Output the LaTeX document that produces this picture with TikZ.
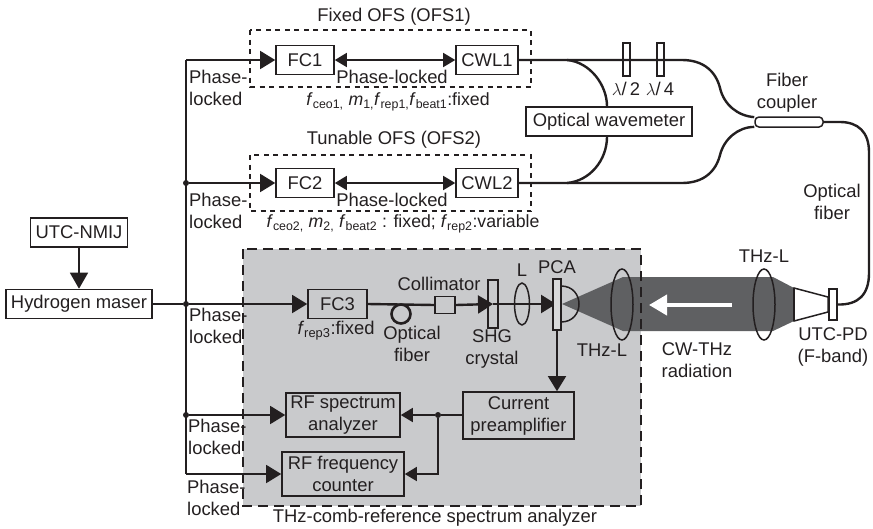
\documentclass[tikz,border=0pt]{standalone}
\usepackage{fontspec}
\setmainfont{Liberation Sans}
\usetikzlibrary{arrows.meta,shapes.geometric}
\definecolor{ink}{HTML}{231F20}
\definecolor{panel}{HTML}{C9CACC}
\definecolor{beam}{HTML}{5F6062}
\newcommand{\fsub}[1]{\textit{f}\textsubscript{#1}}
\tikzset{
  every node/.style={text=ink},
  lbl/.style={inner sep=0pt,align=center,font=\fontsize{18.4}{22}\selectfont},
  paramlbl/.style={inner sep=0pt,font=\fontsize{17.7}{22}\selectfont},
  lockedlbl/.style={lbl,align=left,anchor=west},
  box/.style={lbl,draw=ink,line width=1.6pt,minimum height=#1},
  box/.default=29pt,
  thin wire/.style={draw=ink,line width=1.5pt},
  fiber/.style={draw=ink,line width=2.4pt},
  big/.style={>={Triangle[length=15pt,width=18pt]}},
  mid/.style={>={Triangle[length=12pt,width=14pt]}},
  dotnode/.style={circle,fill=ink,inner sep=0pt,minimum size=6pt},
  plate/.style={draw=ink,line width=1.5pt,inner sep=0pt},
  lens/.style={ellipse,draw=ink,line width=1.5pt,inner sep=0pt}
}
\begin{document}
\begin{tikzpicture}[x=1pt,y=-1pt]
\useasboundingbox (0,0) rectangle (873,528);

% shaded analyzer part and the beam
\fill [panel] (243,249) rectangle (641,506);
\fill [beam] (562,304) -- (623,277) -- (773,277) -- (794,288) -- (794,321) -- (773,331) -- (623,331) -- cycle;
\draw [ink,line width=1.7pt,dash pattern=on 10pt off 6pt] (243,249) rectangle (641,506);
\draw [ink,line width=1.5pt,dash pattern=on 5pt off 4.5pt] (250,30) rectangle (531,87);
\draw [ink,line width=1.5pt,dash pattern=on 5pt off 4.5pt] (250,155) rectangle (531,211);

% boxes
\node (fc1) at (305,60) [box,minimum width=58pt] {FC1};
\node (cwl1) at (487,60) [box,minimum width=62pt] {CWL1};
\node (fc2) at (305,183) [box,minimum width=58pt] {FC2};
\node (cwl2) at (487,183) [box,minimum width=62pt] {CWL2};
\node (wavemeter) at (609,121.5) [box,minimum width=166pt] {Optical wavemeter};
\node (nmij) at (79,232.5) [box,minimum width=97pt] {UTC-NMIJ};
\node (maser) at (79,304) [box,minimum width=146pt] {Hydrogen maser};
\node (fc3) at (337.5,304) [box,minimum width=59pt] {FC3};
\node (analyzer) at (343,415) [box=44pt,minimum width=114pt] {RF spectrum\\analyzer};
\node (counter) at (343,474) [box=44pt,minimum width=122pt] {RF frequency\\counter};
\node (preamp) at (518.5,415.5) [box=47pt,minimum width=111pt] {Current\\preamplifier};
\node (coupler) at (789,122) [draw=ink,line width=1.5pt,rounded corners=4pt,minimum width=68pt,minimum height=10pt,inner sep=0pt] {};

% optics
\node (plate1) at (626.5,59.5) [plate,fill=white,minimum width=7pt,minimum height=33pt] {};
\node (plate2) at (660.5,59.5) [plate,fill=white,minimum width=7pt,minimum height=33pt] {};
\node (loop) at (401,314) [circle,draw=ink,line width=2.6pt,minimum size=19pt,inner sep=0pt] {};
\node (collimator) at (445,305) [plate,minimum width=20pt,minimum height=17pt] {};
\node (shg) at (493,304) [plate,minimum width=10pt,minimum height=48pt] {};
\node (lensL) at (522,304) [lens,minimum width=15pt,minimum height=42pt] {};
\node (lensA) at (622,304.5) [lens,minimum width=22pt,minimum height=71pt] {};
\node (lensB) at (764,304.5) [lens,minimum width=22pt,minimum height=71pt] {};

% junctions on the reference line
\node (dot1) at (186,183) [dotnode] {};
\node (dot2) at (186,304) [dotnode] {};
\node (dot3) at (186,415) [dotnode] {};
\node (dot4) at (438,415) [dotnode] {};
\node (bustop) [coordinate] at (186,60) {};
\node (busend) [coordinate] at (186,474) {};
\node (tap1) [coordinate] at (567,60) {};
\node (tap2) [coordinate] at (567,183) {};
\node (bend1) [coordinate] at (682,60) {};
\node (bend2) [coordinate] at (682,183) {};

\draw [thin wire] (bustop) -- (busend);
\path [every edge/.append style={->,thin wire,big}]
    (bustop) edge (fc1.west)
    (dot1) edge (fc2.west)
    (dot2) edge (fc3.west)
    (dot3) edge (analyzer.west)
    (busend) edge (counter.west)
;
\draw [->,thin wire,>={Triangle[length=16pt,width=18pt]}] (nmij) -- (maser);
\draw [thin wire] (maser.east) -- (dot2);
\path [every edge/.append style={<->,thin wire,mid}]
    (fc1.east) edge (cwl1.west)
    (fc2.east) edge (cwl2.west)
;
\draw [fiber] (fc3.east) -- (collimator.west);
\draw [->,fiber,big] (collimator.east) -- (shg.center);
\draw [->,fiber,big] (shg.center) -- (556,304);

% fibers
\draw [fiber] (cwl1.east) -- (bend1) .. controls (704,60) and (716,72) .. (720,88) .. controls (724,105) and (738,116) .. (coupler.172);
\draw [fiber] (cwl2.east) -- (bend2) .. controls (704,183) and (716,171) .. (720,155) .. controls (724,139) and (738,127) .. (coupler.188);
\draw [fiber] (tap1) .. controls (590,62) and (607,85) .. ([xshift=-2pt]wavemeter.north);
\draw [fiber] ([xshift=-2pt]wavemeter.south) .. controls (607,160) and (590,181) .. (tap2);

% PCA and photodiode
\node (pca) at (557,304.5) [plate,fill=panel!70!white,minimum width=8pt,minimum height=51pt] {};
\draw [ink,line width=1.5pt] (561,286) .. controls (585,286) and (585,322) .. (561,322);
\draw [ink,line width=1.5pt,fill=white] (794,288) -- (828,297) -- (828,312) -- (794,321) -- cycle;
\draw [ink,line width=2.4pt] (794,288) -- (794,321);
\node (pd) at (833,304.5) [plate,fill=white,minimum width=8pt,minimum height=31pt] {};
\draw [fiber] (pd.east) .. controls (858,305) and (869,295) .. (869,273) -- (869,152) .. controls (869,132) and (858,122) .. (840,122) -- (coupler.east);

% right hand side of the amplifier
\draw [->,thin wire,big] (pca.south) -- (pca.south |- preamp.north);
\draw [thin wire] (preamp.west |- dot4) -- (dot4);
\draw [->,thin wire,mid] (dot4) -- (analyzer.east |- dot4);
\draw [->,thin wire,mid] (dot4) -- (dot4 |- counter.east) -- (counter.east);

% white arrow in the beam
\node (arrowtail) [coordinate] at (732,305) {};
\node (arrowtip) [coordinate] at (649,305) {};
\draw [white,line width=4pt,-{Triangle[length=18pt,width=20pt]}] (arrowtail) -- (arrowtip);

% labels
\node (titleA) at (394,17) [lbl] {Fixed OFS (OFS1)};
\node (titleB) at (394,140) [lbl] {Tunable OFS (OFS2)};
\node (lockA) at (392,77) [lbl] {Phase-locked};
\node (lockB) at (392,200) [lbl] {Phase-locked};
\node (paramA) at (398,102) [paramlbl] {\fsub{ceo1,} \textit{m}\textsubscript{1,}\fsub{rep1,}\fsub{beat1}:fixed};
\node (paramB) at (403,224) [paramlbl] {\fsub{ceo2,} \textit{m}\textsubscript{2,} \fsub{beat2} : fixed; \fsub{rep2}:variable};
\node (phaseA) at (189,88) [lockedlbl] {Phase-\\locked};
\node (phaseB) at (189,211) [lockedlbl] {Phase-\\locked};
\node (phaseC) at (189,326) [lockedlbl] {Phase-\\locked};
\node (phaseD) at (188,437) [lockedlbl] {Phase-\\locked};
\node (phaseE) at (187,498) [lockedlbl] {Phase-\\locked};
\node (wavehalf) at (626,89) [lbl] {$\lambda$/\,2};
\node (wavequarter) at (660,89) [lbl] {$\lambda$/\,4};
\node (couplerlbl) at (787,93) [lbl] {Fiber\\coupler};
\node (fiberlblA) at (832,202) [lbl] {Optical\\fiber};
\node (frep) at (336,331) [lbl] {\fsub{rep3}:fixed};
\node (fiberlblB) at (412,344) [lbl] {Optical\\fiber};
\node (collimatorlbl) at (439,284) [lbl] {Collimator};
\node (shglbl) at (492,349) [lbl] {SHG\\crystal};
\node (lensLlbl) at (522,270) [lbl] {L};
\node (pcalbl) at (557,267) [lbl] {PCA};
\node (lensAlbl) at (602,350) [lbl] {THz-L};
\node (lensBlbl) at (764,256) [lbl] {THz-L};
\node (cwlbl) at (697,360) [lbl] {CW-THz\\radiation};
\node (pdlbl) at (833,347) [lbl] {UTC-PD\\(F-band)};
\node (analyzerlbl) at (435,518) [lbl] {THz-comb-reference spectrum analyzer};

\end{tikzpicture}
\end{document}
